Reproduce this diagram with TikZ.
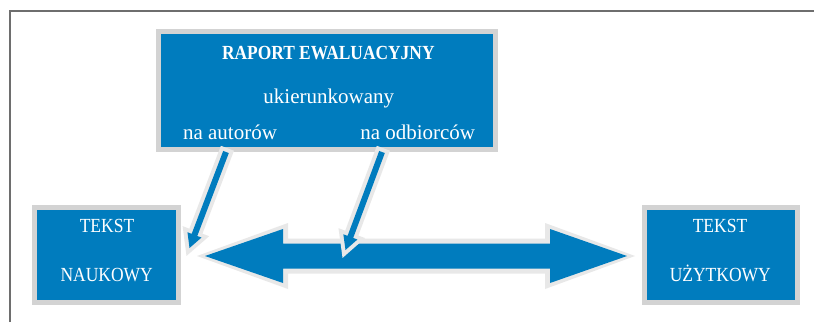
\documentclass[tikz,border=0pt]{standalone}
\usepackage{fontspec}
\setmainfont{Liberation Serif}
\newfontfamily\capsfont[FakeStretch=0.875]{Liberation Serif}
\newfontfamily\titlefont[FakeStretch=0.87]{Liberation Serif}
\usetikzlibrary{calc}
\definecolor{myblue}{RGB}{0,124,190}
\definecolor{boxgray}{RGB}{211,211,211}
\definecolor{arrowgray}{RGB}{232,232,232}
\definecolor{framegray}{RGB}{110,110,110}
\tikzset{
  box/.style={rectangle, draw=boxgray, line width=5pt, fill=myblue, inner sep=0pt, outer sep=0pt},
  caps/.style={anchor=base, text=white, inner sep=0pt, font=\capsfont\fontsize{20}{22}\selectfont},
  lower/.style={anchor=base, text=white, inner sep=0pt, font=\fontsize{21}{24}\selectfont},
  smallarrow/.style={fill=myblue, preaction={draw=arrowgray, line width=8pt, line join=miter}}
}
\begin{document}
\begin{tikzpicture}[x=1pt,y=-1pt]
\useasboundingbox (0,0) rectangle (814,322);
\fill[white] (0,0) rectangle (814,322);
% frame
\draw[framegray, line width=1.6pt] (9.7,322) -- (9.7,10.7) -- (814,10.7);
% boxes
\node[box, minimum width=337pt, minimum height=118pt] (raport) at (327,90.5) {};
\node[box, minimum width=144pt, minimum height=95pt] (naukowy) at (106.5,255) {};
\node[box, minimum width=153pt, minimum height=95pt] (uzytkowy) at (721,255) {};
% texts
\node[caps, font=\titlefont\fontsize{20}{22}\selectfont\bfseries] (title) at (328.3,59.3) {RAPORT EWALUACYJNY};
\node[lower] (uk) at (328.8,103) {ukierunkowany};
\node[lower] (aut) at (230,139) {na autorów};
\node[lower] (odb) at (417.7,139) {na odbiorców};
\node[caps] (tk1) at (107,232.7) {TEKST};
\node[caps] (nk) at (106.7,281) {NAUKOWY};
\node[caps] (tk2) at (720,232.7) {TEKST};
\node[caps] (uz) at (720.3,281) {UŻYTKOWY};
% big double arrow between the two text boxes
\coordinate (L) at (205,256);
\coordinate (R) at (627,256);
\fill[arrowgray] ($(L)+(-8,0)$) -- ($(L)+(83,-33)$) -- ($(L)+(83,-17.5)$) -- ($(R)+(-82,-17.5)$)
  -- ($(R)+(-82,-33)$) -- ($(R)+(8,0)$) -- ($(R)+(-82,33)$) -- ($(R)+(-82,17.5)$)
  -- ($(L)+(83,17.5)$) -- ($(L)+(83,33)$) -- cycle;
\fill[myblue] (L) -- ($(L)+(78,-27)$) -- ($(L)+(78,-12.5)$) -- ($(R)+(-77,-12.5)$)
  -- ($(R)+(-77,-27)$) -- (R) -- ($(R)+(-77,27)$) -- ($(R)+(-77,12.5)$)
  -- ($(L)+(78,12.5)$) -- ($(L)+(78,27)$) -- cycle;
% small arrows
\coordinate (a1s) at (226,152);
\coordinate (a1t) at (189.5,248);
\coordinate (a1h) at ($(a1t)!14pt!(a1s)$);
\fill[smallarrow] ($(a1s)!3pt!90:(a1t)$) -- ($(a1h)!3pt!90:(a1t)$) -- ($(a1h)!7.5pt!90:(a1t)$)
  -- (a1t) -- ($(a1h)!7.5pt!-90:(a1t)$) -- ($(a1h)!3pt!-90:(a1t)$) -- ($(a1s)!3pt!-90:(a1t)$) -- cycle;
\coordinate (a2s) at (382,152);
\coordinate (a2t) at (345.5,250);
\coordinate (a2h) at ($(a2t)!14pt!(a2s)$);
\fill[smallarrow] ($(a2s)!3pt!90:(a2t)$) -- ($(a2h)!3pt!90:(a2t)$) -- ($(a2h)!7.5pt!90:(a2t)$)
  -- (a2t) -- ($(a2h)!7.5pt!-90:(a2t)$) -- ($(a2h)!3pt!-90:(a2t)$) -- ($(a2s)!3pt!-90:(a2t)$) -- cycle;
\end{tikzpicture}
\end{document}
